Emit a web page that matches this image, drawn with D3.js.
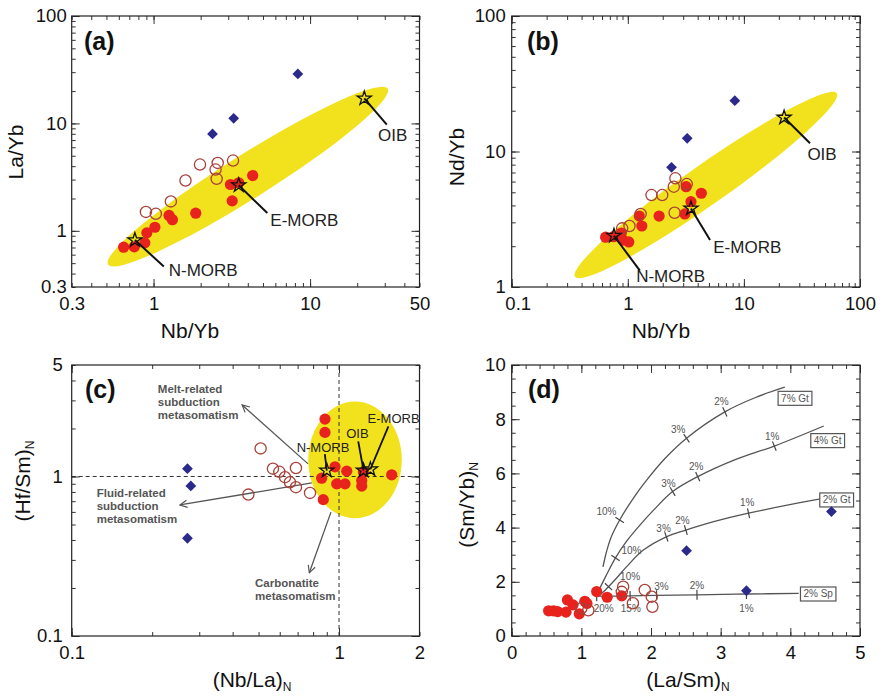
<!DOCTYPE html>
<html>
<head>
<meta charset="utf-8">
<script src="https://cdn.jsdelivr.net/npm/d3@7"></script>
<style>
  body { margin: 0; background: #fff; }
  text { font-family: "Liberation Sans", Arial, sans-serif; }
</style>
</head>
<body>
<script>
// ---------------- sample data ----------------
// (a)/(b): filled red circles
const redNbYb = [0.644, 0.753, 0.88, 0.906, 1.02, 1.256, 1.32, 1.86, 3.10, 3.50, 4.30, 3.18];
const redLaYb = [0.704, 0.71, 0.773, 0.958, 1.08, 1.39, 1.27, 1.46, 2.70, 2.80, 3.27, 1.90];
const redNdYb = [2.33, 2.35, 2.50, 2.22, 2.15, 3.34, 2.82, 3.34, 3.46, 4.26, 4.92, 5.50];
// (a)/(b): open circles
const openNbYb = [0.894, 1.034, 1.29, 1.60, 1.98, 2.57, 2.49, 2.53, 3.22];
const openLaYb = [1.50, 1.44, 1.88, 2.94, 4.14, 4.29, 3.72, 3.05, 4.51];
const openNdYb = [2.71, 2.82, 3.46, 4.77, 4.77, 6.34, 5.50, 3.53, 5.75];
// (a)/(b): blue diamonds
const blueNbYb = [2.38, 3.25, 8.35];
const blueLaYb = [7.98, 11.15, 28.9];
const blueNdYb = [7.65, 12.5, 23.7];

// (c)
const redNbLaN = [0.886, 0.886, 0.966, 1.069, 0.861, 0.980, 1.053, 1.233, 1.216, 1.216, 1.574, 0.873];
const redHfSmN = [2.29, 1.89, 1.15, 1.08, 0.976, 0.899, 0.899, 1.066, 0.870, 0.943, 1.025, 0.716];
const openNbLaN = [0.509, 0.566, 0.598, 0.690, 0.628, 0.655, 0.690, 0.779, 0.458];
const openHfSmN = [1.50, 1.12, 1.07, 1.13, 0.99, 0.92, 0.857, 0.789, 0.77];
const blueNbLaN = [0.271, 0.279, 0.271];
const blueHfSmN = [1.12, 0.873, 0.410];

// (d)
const redLaSmN = [0.53, 0.60, 0.66, 0.78, 0.80, 0.88, 0.97, 1.05, 1.08, 1.22, 1.37, 1.58];
const redSmYbN = [0.93, 0.93, 0.90, 0.88, 1.33, 1.15, 0.82, 1.28, 1.20, 1.64, 1.43, 1.48];
const openLaSmN = [1.00, 1.10, 1.58, 1.60, 1.74, 1.91, 2.01, 2.02];
const openSmYbN = [1.02, 0.95, 1.63, 1.82, 1.21, 1.70, 1.45, 1.08];
const blueLaSmN = [2.51, 3.37, 4.59];
const blueSmYbN = [3.15, 1.67, 4.59];

// reference reservoirs
const refNames = ["N-MORB", "E-MORB", "OIB"];
const refNbYb = [0.76, 3.50, 22.2];
const refLaYb = [0.82, 2.66, 17.1];
const refNdYb = [2.39, 3.80, 17.8];
const refNbLaN = [0.90, 1.31, 1.235];
const refHfSmN = [1.09, 1.11, 1.09];

// mantle array fields
const fieldA = { tips: [[0.512, 0.486], [31.3, 21.1]], widthRatio: 0.133 };
const fieldB = { tips: [[0.351, 1.19], [63, 26.9]], widthRatio: 0.125 };
const fieldC = { xRange: [0.767, 1.717], yRange: [0.548, 2.95] };

// (d) non-modal batch melting curves
const meltCurves = [
  { name: "7% Gt", pts: [[1.31, 2.55], [1.36, 3.1], [1.42, 3.6], [1.55, 4.28], [1.75, 5.10], [1.94, 5.76], [2.2, 6.55], [2.51, 7.30], [3.06, 8.27], [3.5, 8.80], [3.92, 9.18]], box: [4.067, 8.77] },
  { name: "4% Gt", pts: [[1.21, 1.48], [1.35, 2.2], [1.49, 2.88], [1.65, 3.50], [1.85, 4.12], [2.05, 4.68], [2.31, 5.33], [2.67, 5.88], [3.2, 6.5], [3.77, 7.01], [4.48, 7.75]], box: [4.536, 7.21] },
  { name: "2% Gt", pts: [[1.27, 1.52], [1.39, 1.82], [1.5, 2.12], [1.65, 2.56], [1.89, 3.17], [2.22, 3.66], [2.50, 3.91], [2.9, 4.22], [3.40, 4.53], [3.9, 4.80], [4.47, 5.08]], box: [4.665, 5.02] },
  { name: "2% Sp", pts: [[1.21, 1.47], [1.7, 1.48], [2.08, 1.50], [2.66, 1.52], [3.37, 1.55], [4.12, 1.57]], box: [4.40, 1.55] }
];
// melting-degree ticks: [curve, x, y, label, labelX, labelY]
const meltTicks = [
  [0, 1.55, 4.28, "10%", 1.36, 4.59], [0, 2.51, 7.30, "3%", 2.39, 7.63], [0, 3.06, 8.27, "2%", 3.01, 8.65],
  [1, 1.49, 2.88, "10%", 1.72, 3.15], [1, 2.31, 5.33, "3%", 2.25, 5.63], [1, 2.67, 5.88, "2%", 2.65, 6.25], [1, 3.77, 7.01, "1%", 3.74, 7.38],
  [2, 1.39, 1.82, "10%", 1.70, 2.21], [2, 2.22, 3.66, "3%", 2.18, 3.97], [2, 2.50, 3.91, "2%", 2.45, 4.28], [2, 3.40, 4.53, "1%", 3.38, 4.92],
  [3, 1.22, 1.47, "20%", 1.32, 1.02], [3, 1.70, 1.48, "15%", 1.71, 1.02], [3, 2.08, 1.50, "3%", 2.15, 1.82], [3, 2.66, 1.52, "2%", 2.66, 1.85], [3, 3.37, 1.55, "1%", 3.37, 1.02]
];

// tick values
const logMinor = (lo, hi) => { const v = []; for (let e = -2; e < 3; e++) for (let m = 1; m < 10; m++) { const t = m * Math.pow(10, e); if (t >= lo * 0.999 && t <= hi * 1.001) v.push(+t.toPrecision(3)); } return v; };
const ticksA = { xLab: [0.3, 1, 10, 50], yLab: [0.3, 1, 10, 100], xMaj: [1, 10], yMaj: [1, 10, 100] };
const ticksB = { xLab: [0.1, 1, 10, 100], yLab: [1, 10, 100], xMaj: [0.1, 1, 10, 100], yMaj: [1, 10, 100] };
const ticksC = { xLab: [0.1, 1, 2], yLab: [0.1, 1, 5], xMaj: [0.1, 1], yMaj: [0.1, 1] };
const ticksD = { xLab: [0, 1, 2, 3, 4, 5], yLab: [0, 2, 4, 6, 8, 10] };

// ---------------- drawing ----------------
const W = 883, H = 696;
const svg = d3.select("body").append("svg").attr("width", W).attr("height", H);
svg.append("rect").attr("width", W).attr("height", H).attr("fill", "#fff");

const RED = "#e8221c", BLUE = "#2b2a8c", YEL = "#f2e21e", OPEN = "#a8403a";

const defs = svg.append("defs");
defs.append("marker").attr("id", "arr").attr("viewBox", "0 0 10 10")
  .attr("refX", 9).attr("refY", 5).attr("markerWidth", 9).attr("markerHeight", 9)
  .attr("markerUnits", "userSpaceOnUse").attr("orient", "auto")
  .append("path").attr("d", "M1,1 L9,5 L1,9").attr("fill", "none").attr("stroke", "#555").attr("stroke-width", 1.3);

function frame(g, x, y, t, opt) {
  const [xa, xb] = x.range(), [ya, yb] = y.range();
  const strip = s => s.select(".domain").remove();
  const sets = [[t.xMin, t.xMaj, x, "x"], [t.yMin, t.yMaj, y, "y"]];
  for (const [mins, majs, sc, dir] of sets) {
    for (const [vals, len] of [[mins, 4], [majs, 8]]) {
      if (dir === "x") {
        g.append("g").attr("transform", `translate(0,${ya})`).call(d3.axisBottom(sc).tickValues(vals).tickSize(-len).tickFormat("")).call(strip);
        g.append("g").attr("transform", `translate(0,${yb})`).call(d3.axisTop(sc).tickValues(vals).tickSize(-len).tickFormat("")).call(strip);
      } else {
        g.append("g").attr("transform", `translate(${xa},0)`).call(d3.axisLeft(sc).tickValues(vals).tickSize(-len).tickFormat("")).call(strip);
        g.append("g").attr("transform", `translate(${xb},0)`).call(d3.axisRight(sc).tickValues(vals).tickSize(-len).tickFormat("")).call(strip);
      }
    }
  }
  g.selectAll(".tick line").attr("stroke", "#333").attr("stroke-width", 1);
  const fmt = d => String(d);
  const bl = g.append("g").attr("transform", `translate(0,${ya})`).call(d3.axisBottom(x).tickValues(t.xLab).tickSize(0).tickPadding(10).tickFormat(fmt)).call(strip);
  const ll = g.append("g").attr("transform", `translate(${xa},0)`).call(d3.axisLeft(y).tickValues(t.yLab).tickSize(0).tickPadding(opt.lpad).tickFormat(fmt)).call(strip);
  for (const a of [bl, ll]) a.selectAll("text").attr("font-size", 18.5).attr("fill", "#111").attr("font-family", "Liberation Sans, Arial, sans-serif");
  if (opt.firstXShift) bl.select(".tick text").attr("dx", opt.firstXShift);
  g.append("rect").attr("x", xa).attr("y", yb).attr("width", xb - xa).attr("height", ya - yb)
    .attr("fill", "none").attr("stroke", "#222").attr("stroke-width", 1.2);
}

function title(g, txt, sub, x, y, rot) {
  const t = g.append("text").attr("font-size", 21).attr("fill", "#111").attr("text-anchor", "middle")
    .attr("transform", `translate(${x},${y})` + (rot ? " rotate(-90)" : ""));
  t.append("tspan").text(txt);
  if (sub) t.append("tspan").attr("font-size", 12).attr("dy", 4).text(sub);
}

function panelLabel(g, txt, x, y) {
  g.append("text").attr("x", x).attr("y", y).attr("font-size", 25).attr("font-weight", "bold").attr("fill", "#111").text(txt);
}

function drawPoints(g, x, y, xs, ys, kind) {
  const pts = xs.map((v, i) => [x(v), y(ys[i])]);
  if (kind === "red") {
    g.append("g").selectAll("circle").data(pts).join("circle")
      .attr("cx", d => d[0]).attr("cy", d => d[1]).attr("r", 5.6).attr("fill", RED);
  } else if (kind === "open") {
    g.append("g").selectAll("circle").data(pts).join("circle")
      .attr("cx", d => d[0]).attr("cy", d => d[1]).attr("r", 5.6).attr("fill", "none")
      .attr("stroke", OPEN).attr("stroke-width", 1.3);
  } else {
    const sym = d3.symbol(d3.symbolSquare, 58)();
    g.append("g").selectAll("path").data(pts).join("path")
      .attr("d", sym).attr("transform", d => `translate(${d[0]},${d[1]}) rotate(45)`).attr("fill", BLUE);
  }
}

function drawStars(g, x, y, xs, ys) {
  const sym = d3.symbol(d3.symbolStar, 62)();
  g.append("g").selectAll("path").data(xs.map((v, i) => [x(v), y(ys[i])])).join("path")
    .attr("d", sym).attr("transform", d => `translate(${d[0]},${d[1]})`)
    .attr("fill", "none").attr("stroke", "#111").attr("stroke-width", 1.3);
}

function tiltedField(g, x, y, f) {
  const p1 = [x(f.tips[0][0]), y(f.tips[0][1])], p2 = [x(f.tips[1][0]), y(f.tips[1][1])];
  const len = Math.hypot(p2[0] - p1[0], p2[1] - p1[1]);
  const ang = Math.atan2(p2[1] - p1[1], p2[0] - p1[0]) * 180 / Math.PI;
  g.append("ellipse").attr("cx", 0).attr("cy", 0).attr("rx", len / 2).attr("ry", len * f.widthRatio / 2)
    .attr("transform", `translate(${(p1[0] + p2[0]) / 2},${(p1[1] + p2[1]) / 2}) rotate(${ang})`)
    .attr("fill", YEL);
}

function leaders(g, x, y, xs, ys, labs, fs, sw) {
  labs.forEach((l, i) => {
    g.append("line").attr("x1", x(xs[i])).attr("y1", y(ys[i])).attr("x2", x(l.ex)).attr("y2", y(l.ey))
      .attr("stroke", "#111").attr("stroke-width", sw);
    g.append("text").attr("x", x(l.tx)).attr("y", y(l.ty)).attr("font-size", fs).attr("fill", "#222")
      .attr("text-anchor", l.anchor).text(refNames[i]);
  });
}

// ---------- (a) ----------
{
  const g = svg.append("g");
  const x = d3.scaleLog().domain([0.3, 50]).range([71.7, 419.5]);
  const y = d3.scaleLog().domain([0.3, 100]).range([287, 16]);
  tiltedField(g, x, y, fieldA);
  drawPoints(g, x, y, blueNbYb, blueLaYb, "blue");
  drawPoints(g, x, y, redNbYb, redLaYb, "red");
  drawPoints(g, x, y, openNbYb, openLaYb, "open");
  drawStars(g, x, y, refNbYb, refLaYb);
  leaders(g, x, y, refNbYb, refLaYb, [
    { ex: 1.163, ey: 0.466, tx: 1.25, ty: 0.376, anchor: "start" },
    { ex: 5.33, ey: 1.464, tx: 5.57, ty: 1.12, anchor: "start" },
    { ex: 30.9, ey: 9.73, tx: 33.7, ty: 6.92, anchor: "middle" }
  ], 17, 2);
  frame(g, x, y, { ...ticksA, xMin: logMinor(0.3, 50), yMin: logMinor(0.3, 100) }, { lpad: 5 });
  panelLabel(g, "(a)", 84, 50);
  title(g, "Nb/Yb", null, 190, 338, false);
  title(g, "La/Yb", null, 23, 152, true);
}

// ---------- (b) ----------
{
  const g = svg.append("g");
  const x = d3.scaleLog().domain([0.1, 100]).range([511.7, 860]);
  const y = d3.scaleLog().domain([1, 100]).range([287, 16]);
  tiltedField(g, x, y, fieldB);
  drawPoints(g, x, y, blueNbYb, blueNdYb, "blue");
  drawPoints(g, x, y, redNbYb, redNdYb, "red");
  drawPoints(g, x, y, openNbYb, openNdYb, "open");
  drawStars(g, x, y, refNbYb, refNdYb);
  leaders(g, x, y, refNbYb, refNdYb, [
    { ex: 1.27, ey: 1.32, tx: 1.18, ty: 1.09, anchor: "start" },
    { ex: 5.11, ey: 2.22, tx: 5.45, ty: 1.78, anchor: "start" },
    { ex: 37.1, ey: 11.5, tx: 47.1, ty: 8.65, anchor: "middle" }
  ], 17, 2);
  frame(g, x, y, { ...ticksB, xMin: logMinor(0.1, 100), yMin: logMinor(1, 100) }, { lpad: 6, firstXShift: 6 });
  panelLabel(g, "(b)", 527, 50);
  title(g, "Nb/Yb", null, 661, 338, false);
  title(g, "Nd/Yb", null, 464, 157, true);
}

// ---------- (c) ----------
{
  const g = svg.append("g");
  const x = d3.scaleLog().domain([0.1, 2]).range([71.7, 419.5]);
  const y = d3.scaleLog().domain([0.1, 5]).range([636, 365]);
  const cx = Math.sqrt(fieldC.xRange[0] * fieldC.xRange[1]), cy = Math.sqrt(fieldC.yRange[0] * fieldC.yRange[1]);
  g.append("ellipse").attr("cx", x(cx)).attr("cy", y(cy))
    .attr("rx", (x(fieldC.xRange[1]) - x(fieldC.xRange[0])) / 2)
    .attr("ry", (y(fieldC.yRange[0]) - y(fieldC.yRange[1])) / 2).attr("fill", YEL);
  // unity reference lines
  g.append("line").attr("x1", x(1)).attr("x2", x(1)).attr("y1", y(0.1)).attr("y2", y(5))
    .attr("stroke", "#333").attr("stroke-width", 1).attr("stroke-dasharray", "4,3");
  g.append("line").attr("x1", x(0.1)).attr("x2", x(2)).attr("y1", y(1)).attr("y2", y(1))
    .attr("stroke", "#333").attr("stroke-width", 1).attr("stroke-dasharray", "4,3");
  // metasomatism trends
  const trends = [
    { from: [0.766, 1.20], to: [0.434, 2.81], lines: ["Melt-related", "subduction", "metasomatism"], tx: 0.21, ty: 3.33 },
    { from: [0.791, 0.912], to: [0.254, 0.663], lines: ["Fluid-related", "subduction", "metasomatism"], tx: 0.124, ty: 0.745 },
    { from: [0.933, 0.598], to: [0.774, 0.249], lines: ["Carbonatite", "metasomatism"], tx: 0.485, ty: 0.204 }
  ];
  trends.forEach(t => {
    g.append("line").attr("x1", x(t.from[0])).attr("y1", y(t.from[1])).attr("x2", x(t.to[0])).attr("y2", y(t.to[1]))
      .attr("stroke", "#555").attr("stroke-width", 1.3).attr("marker-end", "url(#arr)");
    const tt = g.append("text").attr("x", x(t.tx)).attr("y", y(t.ty)).attr("font-size", 11.5)
      .attr("font-weight", "bold").attr("fill", "#555");
    t.lines.forEach((s, i) => tt.append("tspan").attr("x", x(t.tx)).attr("dy", i ? 13 : 0).text(s));
  });
  drawPoints(g, x, y, blueNbLaN, blueHfSmN, "blue");
  drawPoints(g, x, y, redNbLaN, redHfSmN, "red");
  drawPoints(g, x, y, openNbLaN, openHfSmN, "open");
  drawStars(g, x, y, refNbLaN, refHfSmN);
  leaders(g, x, y, refNbLaN, refHfSmN, [
    { ex: 0.885, ey: 1.38, tx: 0.871, ty: 1.43, anchor: "middle" },
    { ex: 1.53, ey: 2.06, tx: 1.60, ty: 2.15, anchor: "middle" },
    { ex: 1.18, ey: 1.66, tx: 1.172, ty: 1.75, anchor: "middle" }
  ], 13, 1.8);
  frame(g, x, y, { ...ticksC, xMin: logMinor(0.1, 2), yMin: logMinor(0.1, 5) }, { lpad: 9 });
  panelLabel(g, "(c)", 85, 398);
  title(g, "(Nb/La)", "N", 252, 687, false);
  title(g, "(Hf/Sm)", "N", 30, 481, true);
}

// ---------- (d) ----------
{
  const g = svg.append("g");
  const x = d3.scaleLinear().domain([0, 5]).range([511.7, 860]);
  const y = d3.scaleLinear().domain([0, 10]).range([636, 365]);
  const line = d3.line().x(d => x(d[0])).y(d => y(d[1])).curve(d3.curveCatmullRom);
  meltCurves.forEach(c => {
    g.append("path").attr("d", line(c.pts)).attr("fill", "none").attr("stroke", "#555").attr("stroke-width", 1.3);
  });
  meltTicks.forEach(([ci, tx, ty, lab, lx, ly]) => {
    const pts = meltCurves[ci].pts;
    let k = pts.findIndex(p => p[0] > tx);
    if (k < 1) k = 1;
    const dx = x(pts[k][0]) - x(pts[k - 1][0]), dy = y(pts[k][1]) - y(pts[k - 1][1]);
    const L = Math.hypot(dx, dy), nx = -dy / L * 5, ny = dx / L * 5;
    const px = x(tx), py = y(ty);
    g.append("line").attr("x1", px - nx).attr("y1", py - ny).attr("x2", px + nx).attr("y2", py + ny)
      .attr("stroke", "#444").attr("stroke-width", 1.2);
    g.append("text").attr("x", x(lx)).attr("y", y(ly)).attr("dy", "0.35em").attr("text-anchor", "middle")
      .attr("font-size", 10).attr("fill", "#555").text(lab);
  });
  meltCurves.forEach(c => {
    const bx = x(c.box[0]), by = y(c.box[1]);
    const t = g.append("text").attr("x", bx).attr("y", by).attr("dy", "0.35em").attr("text-anchor", "middle")
      .attr("font-size", 10).attr("fill", "#555").text(c.name);
    const w = t.node().getComputedTextLength() + 6;
    g.insert("rect", "text").attr("x", bx - w / 2).attr("y", by - 7).attr("width", w).attr("height", 14)
      .attr("fill", "#fff").attr("stroke", "#555").attr("stroke-width", 1.2);
  });
  drawPoints(g, x, y, blueLaSmN, blueSmYbN, "blue");
  drawPoints(g, x, y, redLaSmN, redSmYbN, "red");
  drawPoints(g, x, y, openLaSmN, openSmYbN, "open");
  const xMin = d3.range(0, 5.001, 0.2).map(v => +v.toFixed(1));
  const yMin = d3.range(0, 10.001, 0.5);
  frame(g, x, y, { ...ticksD, xMin, yMin, xMaj: ticksD.xLab, yMaj: ticksD.yLab }, { lpad: 6 });
  panelLabel(g, "(d)", 528, 398);
  title(g, "(La/Sm)", "N", 688, 687, false);
  title(g, "(Sm/Yb)", "N", 474, 505, true);
}
</script>
</body>
</html>
